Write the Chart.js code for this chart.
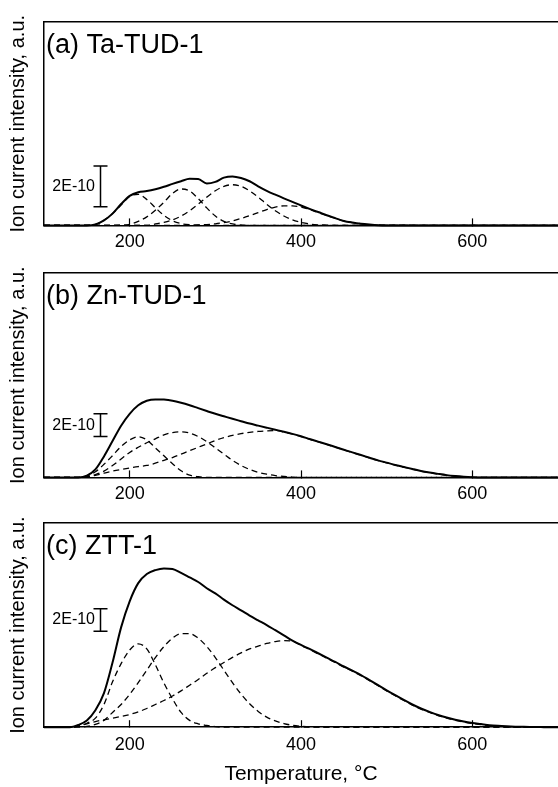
<!DOCTYPE html>
<html lang="en">
<head>
<meta charset="UTF-8">
<script src="https://cdn.jsdelivr.net/npm/chart.js"></script>
<title>TPD profiles</title>
<style>
  body { margin: 0; background: #fff; }
  #wrap { position: relative; width: 558px; height: 787px; overflow: hidden; }
  .panel { position: absolute; left: 0; width: 558px; }
</style>
</head>
<body>
<div id="wrap">
  <div class="panel" style="top:0px;height:266px"><canvas id="chartA"></canvas></div>
  <div class="panel" style="top:250px;height:268px"><canvas id="chartB"></canvas></div>
  <div class="panel" style="top:500px;height:287px"><canvas id="chartC"></canvas></div>
</div>
<script>
// temperatures in °C, intensities in units of 1E-10
const tickTemps = [200, 400, 600];
const panelLabels = ['(a) Ta-TUD-1', '(b) Zn-TUD-1', '(c) ZTT-1'];
const yMaxes = [10, 18, 18];
const barLabel = '2E-10';
const barSize = 2;
const barTemp = 165;
const barBases = [0.92, 3.6, 8.45];

// (a) Ta-TUD-1
const tempsA = [100, 140, 150, 160, 170, 180, 190, 200, 210, 220, 230, 240, 250, 260, 270, 280, 290, 300, 310, 320,
  330, 340, 350, 360, 370, 380, 390, 400, 410, 420, 430, 440, 450, 460, 470, 480, 490, 500, 700];
const totalA = [0, 0, 0, 0.05, 0.25, 0.58, 1.05, 1.45, 1.63, 1.69, 1.78, 1.9, 2.04, 2.17, 2.29, 2.28, 2.06, 2.14, 2.35, 2.41,
  2.33, 2.17, 1.92, 1.7, 1.51, 1.33, 1.16, 0.98, 0.81, 0.66, 0.5, 0.36, 0.22, 0.14, 0.08, 0.04, 0.01, 0, 0];
const peak1A = [0, 0, 0, 0.05, 0.25, 0.58, 1.0, 1.42, 1.53, 1.27, 0.87, 0.49, 0.23, 0.09, 0.03, 0.01, 0, 0, 0, 0,
  0, 0, 0, 0, 0, 0, 0, 0, 0, 0, 0, 0, 0, 0, 0, 0, 0, 0, 0];
const peak2A = [0, 0, 0, 0, 0, 0, 0.01, 0.05, 0.2, 0.42, 0.75, 1.14, 1.57, 1.79, 1.69, 1.32, 0.86, 0.46, 0.2, 0.07,
  0.02, 0, 0, 0, 0, 0, 0, 0, 0, 0, 0, 0, 0, 0, 0, 0, 0, 0, 0];
const peak3A = [0, 0, 0, 0, 0, 0, 0, 0, 0, 0, 0.07, 0.15, 0.27, 0.46, 0.72, 1.04, 1.39, 1.7, 1.92, 2.0,
  1.92, 1.7, 1.39, 1.04, 0.72, 0.46, 0.27, 0.15, 0.07, 0.03, 0.01, 0, 0, 0, 0, 0, 0, 0, 0];
const peak4A = [0, 0, 0, 0, 0, 0, 0, 0, 0, 0, 0, 0, 0, 0, 0.01, 0.02, 0.04, 0.08, 0.14, 0.22,
  0.34, 0.48, 0.63, 0.78, 0.9, 0.96, 0.96, 0.9, 0.78, 0.63, 0.48, 0.34, 0.22, 0.14, 0.08, 0.04, 0.02, 0.01, 0];

// (b) Zn-TUD-1
const tempsB = [100, 140, 150, 160, 170, 180, 190, 200, 210, 220, 230, 240, 250, 260, 270, 280, 290, 300, 310, 320,
  330, 340, 350, 360, 370, 380, 390, 400, 410, 420, 430, 440, 450, 460, 470, 480, 490, 500, 510, 520,
  530, 540, 550, 560, 570, 580, 590, 600, 610, 700];
const totalB = [0, 0, 0.15, 0.7, 1.85, 3.2, 4.55, 5.6, 6.35, 6.75, 6.87, 6.85, 6.75, 6.57, 6.35, 6.1, 5.85, 5.6, 5.38, 5.16,
  4.95, 4.74, 4.56, 4.38, 4.2, 4.02, 3.83, 3.62, 3.38, 3.15, 2.92, 2.68, 2.44, 2.2, 1.97, 1.73, 1.5, 1.3, 1.1, 0.92,
  0.74, 0.57, 0.43, 0.31, 0.2, 0.12, 0.06, 0.02, 0, 0];
const peak1B = [0, 0, 0.12, 0.5, 1.15, 1.92, 2.72, 3.3, 3.58, 3.3, 2.6, 1.9, 1.2, 0.58, 0.2, 0.06, 0, 0, 0, 0,
  0, 0, 0, 0, 0, 0, 0, 0, 0, 0, 0, 0, 0, 0, 0, 0, 0, 0, 0, 0,
  0, 0, 0, 0, 0, 0, 0, 0, 0, 0];
const peak2B = [0, 0, 0.05, 0.25, 0.55, 1.05, 1.62, 2.2, 2.65, 3.05, 3.4, 3.75, 3.95, 4.02, 3.9, 3.6, 3.15, 2.6, 2.05, 1.5,
  1.05, 0.7, 0.45, 0.28, 0.16, 0.08, 0.03, 0, 0, 0, 0, 0, 0, 0, 0, 0, 0, 0, 0, 0,
  0, 0, 0, 0, 0, 0, 0, 0, 0, 0];
const peak3B = [0, 0, 0.05, 0.18, 0.37, 0.55, 0.7, 0.83, 0.95, 1.05, 1.25, 1.5, 1.75, 2.05, 2.35, 2.65, 2.95, 3.25, 3.5, 3.7,
  3.85, 3.97, 4.05, 4.1, 4.12, 4.0, 3.81, 3.6, 3.36, 3.13, 2.9, 2.66, 2.42, 2.18, 1.95, 1.71, 1.48, 1.28, 1.08, 0.9,
  0.72, 0.55, 0.41, 0.29, 0.18, 0.1, 0.05, 0.01, 0, 0];

// (c) ZTT-1
const tempsC = [100, 130, 140, 150, 160, 170, 180, 190, 200, 210, 220, 230, 240, 250, 260, 270, 280, 290, 300, 310,
  320, 330, 340, 350, 360, 370, 380, 390, 400, 410, 420, 430, 440, 450, 460, 470, 480, 490, 500, 510,
  520, 530, 540, 550, 560, 570, 580, 590, 600, 610, 620, 630, 640, 650, 660, 670, 680, 690, 700];
const totalC = [0, 0, 0.2, 0.6, 1.5, 3.0, 5.7, 8.8, 11.1, 12.7, 13.5, 13.85, 14.0, 13.95, 13.6, 13.2, 12.8, 12.25, 11.8, 11.25,
  10.75, 10.3, 9.84, 9.42, 9.0, 8.55, 8.1, 7.64, 7.25, 6.9, 6.52, 6.13, 5.75, 5.35, 4.98, 4.6, 4.15, 3.7, 3.25, 2.82,
  2.4, 2.0, 1.65, 1.35, 1.08, 0.85, 0.65, 0.5, 0.38, 0.28, 0.18, 0.12, 0.08, 0.05, 0.03, 0.02, 0.01, 0, 0];
const peak1C = [0, 0, 0.1, 0.35, 0.8, 2.0, 4.0, 5.6, 6.8, 7.35, 6.9, 5.5, 3.9, 2.5, 1.3, 0.6, 0.3, 0.15, 0.05, 0,
  0, 0, 0, 0, 0, 0, 0, 0, 0, 0, 0, 0, 0, 0, 0, 0, 0, 0, 0, 0,
  0, 0, 0, 0, 0, 0, 0, 0, 0, 0, 0, 0, 0, 0, 0, 0, 0, 0, 0];
const peak2C = [0, 0, 0, 0.08, 0.25, 0.6, 1.3, 2.0, 2.9, 3.93, 5.03, 6.14, 7.11, 7.85, 8.25, 8.25, 7.85, 7.11, 6.14, 5.03,
  3.93, 2.92, 2.07, 1.39, 0.89, 0.55, 0.32, 0.17, 0.09, 0.04, 0.02, 0, 0, 0, 0, 0, 0, 0, 0, 0,
  0, 0, 0, 0, 0, 0, 0, 0, 0, 0, 0, 0, 0, 0, 0, 0, 0, 0, 0];
const peak3C = [0, 0, 0.1, 0.3, 0.5, 0.65, 0.8, 0.95, 1.12, 1.35, 1.65, 2.0, 2.35, 2.75, 3.2, 3.7, 4.2, 4.75, 5.25, 5.7,
  6.15, 6.55, 6.9, 7.15, 7.38, 7.55, 7.63, 7.58, 7.2, 6.85, 6.47, 6.08, 5.7, 5.3, 4.93, 4.55, 4.1, 3.65, 3.2, 2.77,
  2.35, 1.95, 1.6, 1.3, 1.03, 0.8, 0.6, 0.45, 0.33, 0.23, 0.14, 0.08, 0.05, 0.02, 0, 0, 0, 0, 0];

const fontFamily = '"Liberation Sans", Arial, Helvetica, sans-serif';
Chart.defaults.font.family = fontFamily;
Chart.defaults.color = '#000';

// panel label + "2E-10" scale bar
const panelDecor = {
  id: 'panelDecor',
  afterDraw(chart, args, opts) {
    const ctx = chart.ctx;
    const area = chart.chartArea;
    const xs = chart.scales.x;
    const ys = chart.scales.y;
    ctx.save();
    ctx.fillStyle = '#000';
    ctx.font = '27px ' + fontFamily;
    ctx.textAlign = 'left';
    ctx.textBaseline = 'alphabetic';
    ctx.fillText(opts.label, area.left + 2, area.top + 30.5);

    const bx = Math.round(xs.getPixelForValue(barTemp)) + 0.5;
    const y0 = ys.getPixelForValue(opts.barBase);
    const y1 = ys.getPixelForValue(opts.barBase + barSize);
    ctx.strokeStyle = '#000';
    ctx.lineWidth = 1.5;
    ctx.beginPath();
    ctx.moveTo(bx, y0); ctx.lineTo(bx, y1);
    ctx.moveTo(bx - 7, y0); ctx.lineTo(bx + 7, y0);
    ctx.moveTo(bx - 7, y1); ctx.lineTo(bx + 7, y1);
    ctx.stroke();
    ctx.font = '16px ' + fontFamily;
    ctx.textAlign = 'right';
    ctx.textBaseline = 'middle';
    ctx.fillText(barLabel, bx - 5.5, (y0 + y1) / 2);
    ctx.restore();
  }
};

function pts(temps, vals) {
  return temps.map((t, i) => ({ x: t, y: vals[i] }));
}

function makeChart(id, temps, total, parts, idx, padTop, showTitle) {
  const datasets = parts.map(p => ({
    data: pts(temps, p),
    borderColor: '#000',
    borderWidth: 1.3,
    borderDash: [6, 4],
    clip: false
  }));
  datasets.push({ data: pts(temps, total), borderColor: '#000', borderWidth: 2, clip: false });

  return new Chart(document.getElementById(id), {
    type: 'line',
    data: { datasets: datasets },
    plugins: [panelDecor],
    options: {
      responsive: true,
      maintainAspectRatio: false,
      animation: false,
      layout: { padding: { top: padTop, bottom: 0, left: 0, right: 0 } },
      elements: {
        point: { radius: 0 },
        line: { cubicInterpolationMode: 'monotone', fill: false }
      },
      plugins: {
        legend: { display: false },
        tooltip: { enabled: false },
        panelDecor: { label: panelLabels[idx], barBase: barBases[idx] }
      },
      scales: {
        x: {
          type: 'linear', min: 100, max: 700,
          afterBuildTicks: s => { s.ticks = tickTemps.map(v => ({ value: v })); },
          grid: { display: true, drawOnChartArea: false, drawTicks: true, tickLength: -7, tickColor: '#000', tickWidth: 1.2 },
          border: { display: true, color: '#000', width: 1.5 },
          ticks: { padding: showTitle ? 14 : 13, maxRotation: 0, color: '#000', font: { size: 18 } },
          title: { display: showTitle, text: 'Temperature, °C', color: '#000', font: { size: 21 }, padding: { top: -8, bottom: 0 } }
        },
        xTop: {
          type: 'linear', axis: 'x', position: 'top', min: 100, max: 700,
          ticks: { display: false },
          grid: { display: false, drawTicks: false },
          border: { display: true, color: '#000', width: 1.5 }
        },
        y: {
          min: 0, max: yMaxes[idx],
          ticks: { display: false },
          grid: { display: false, drawTicks: false },
          border: { display: true, color: '#000', width: 1.5 },
          title: { display: true, text: 'Ion current intensity, a.u.', color: '#000', font: { size: 20 }, padding: { top: 6, bottom: 14 } }
        }
      }
    }
  });
}

makeChart('chartA', tempsA, totalA, [peak1A, peak2A, peak3A, peak4A], 0, 22, false);
makeChart('chartB', tempsB, totalB, [peak1B, peak2B, peak3B], 1, 23, false);
makeChart('chartC', tempsC, totalC, [peak1C, peak2C, peak3C], 2, 23, true);
</script>
</body>
</html>
